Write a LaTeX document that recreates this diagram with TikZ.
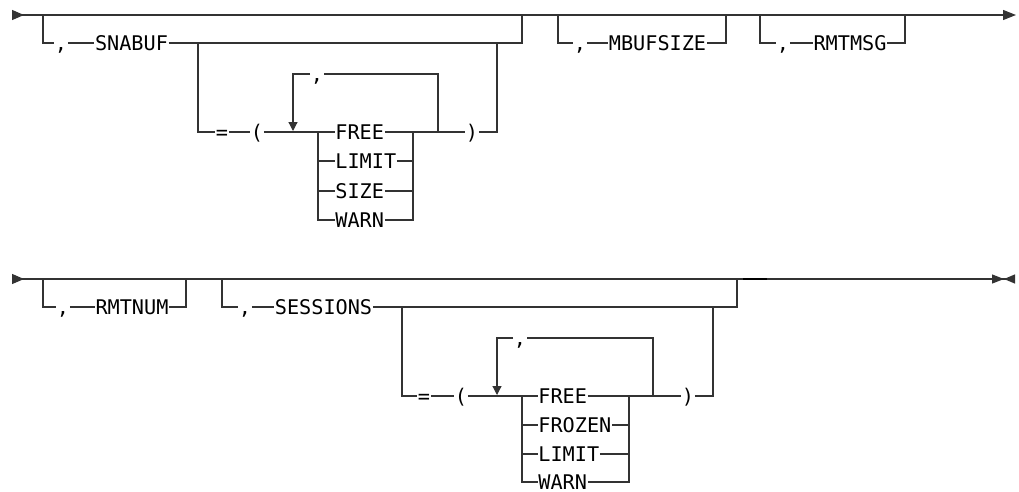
\documentclass[tikz,border=0pt]{standalone}
\usepackage{fontspec}
\newfontfamily\synfont{DejaVu Sans Mono}
\usetikzlibrary{arrows.meta}

\begin{document}
\begin{tikzpicture}[x=1pt, y=-1pt,
  font={\synfont\fontsize{20.2pt}{23pt}\selectfont},
  tok/.style={inner xsep=0.5pt, inner ysep=0pt, text height=14.7pt, text depth=0pt},
  rail/.style={line width=1.2pt, black!80},
  startrail/.style={rail, {Triangle[reversed,length=12pt,width=10pt]}-{Triangle[length=13pt,width=10pt]}},
  endrail/.style={rail, {Triangle[reversed,length=12pt,width=10pt]}-{Triangle[length=12pt,width=9pt] Triangle[reversed,length=11pt,width=9pt]}},
  loopend/.style={-{Triangle[length=9pt,width=9pt]}}]
  \useasboundingbox (0,0) rectangle (1019,491);

  % first line
  \coordinate (s1) at (12,15);
  \coordinate (e1) at (1016,15);
  \draw[startrail] (s1) -- (e1);

  \coordinate (b1) at (43,15);
  \coordinate (b2) at (522,15);
  \node[tok] (c1) at (61,43) {,};
  \node[tok] (snabuf) at (131.5,43) {SNABUF};
  \draw[rail] (b1) |- (c1) -- (snabuf) -| (b2);

  \coordinate (j1) at (198,43);
  \coordinate (ir1) at (497,43);
  \node[tok] (eq1) at (222,132) {=};
  \node[tok] (lp1) at (257,132) {(};
  \node[tok] (rp1) at (472,132) {)};
  \node[tok, anchor=west] (free1) at (334.7,132) {FREE};
  \node[tok, anchor=west] (limit1) at (334.7,161) {LIMIT};
  \node[tok, anchor=west] (size1) at (334.7,191) {SIZE};
  \node[tok, anchor=west] (warn1) at (334.7,220) {WARN};
  \coordinate (cl1) at (318,132);
  \coordinate (cr1) at (413,132);
  \coordinate (lr1) at (438,132);
  \coordinate (ll1) at (293,131);
  \node[tok] (lc1) at (317,74) {,};
  \draw[rail] (j1) |- (eq1) -- (lp1) -- (free1) -- (rp1) -| (ir1);
  \draw[rail] (cl1) |- (limit1) -| (cr1);
  \draw[rail] (cl1) |- (size1) -| (cr1);
  \draw[rail] (cl1) |- (warn1) -| (cr1);
  \draw[rail] (lr1) |- (lc1);
  \draw[rail, loopend] (lc1) -| (ll1);

  \coordinate (b3) at (558,15);
  \coordinate (b4) at (726,15);
  \node[tok] (c2) at (580,43) {,};
  \node[tok] (mbufsize) at (657.5,43) {MBUFSIZE};
  \draw[rail] (b3) |- (c2) -- (mbufsize) -| (b4);

  \coordinate (b5) at (760,15);
  \coordinate (b6) at (905,15);
  \node[tok] (c3) at (783,43) {,};
  \node[tok] (rmtmsg) at (850,43) {RMTMSG};
  \draw[rail] (b5) |- (c3) -- (rmtmsg) -| (b6);

  % second line
  \coordinate (s2) at (12,279);
  \coordinate (e2) at (1015,279);
  \draw[endrail] (s2) -- (e2);
  \coordinate (k1) at (743,279);
  \coordinate (k2) at (767,279);
  \draw[line width=2pt] (k1) -- (k2);

  \coordinate (b7) at (43,279);
  \coordinate (b8) at (186,279);
  \node[tok] (c4) at (63,307) {,};
  \node[tok] (rmtnum) at (132,307) {RMTNUM};
  \draw[rail] (b7) |- (c4) -- (rmtnum) -| (b8);

  \coordinate (b9) at (222,279);
  \coordinate (b10) at (737,279);
  \node[tok] (c5) at (245,307) {,};
  \node[tok] (sessions) at (323.5,307) {SESSIONS};
  \draw[rail] (b9) |- (c5) -- (sessions) -| (b10);

  \coordinate (j2) at (402,307);
  \coordinate (ir2) at (713,307);
  \node[tok] (eq2) at (424,396) {=};
  \node[tok] (lp2) at (461,396) {(};
  \node[tok] (rp2) at (688,396) {)};
  \node[tok, anchor=west] (free2) at (537.7,396) {FREE};
  \node[tok, anchor=west] (frozen2) at (537.7,425) {FROZEN};
  \node[tok, anchor=west] (limit2) at (537.7,454) {LIMIT};
  \node[tok, anchor=west] (warn2) at (537.7,482) {WARN};
  \coordinate (cl2) at (522,396);
  \coordinate (cr2) at (629,396);
  \coordinate (lr2) at (653,396);
  \coordinate (ll2) at (497,395);
  \node[tok] (lc2) at (520,338) {,};
  \draw[rail] (j2) |- (eq2) -- (lp2) -- (free2) -- (rp2) -| (ir2);
  \draw[rail] (cl2) |- (frozen2) -| (cr2);
  \draw[rail] (cl2) |- (limit2) -| (cr2);
  \draw[rail] (cl2) |- (warn2) -| (cr2);
  \draw[rail] (lr2) |- (lc2);
  \draw[rail, loopend] (lc2) -| (ll2);
\end{tikzpicture}
\end{document}
